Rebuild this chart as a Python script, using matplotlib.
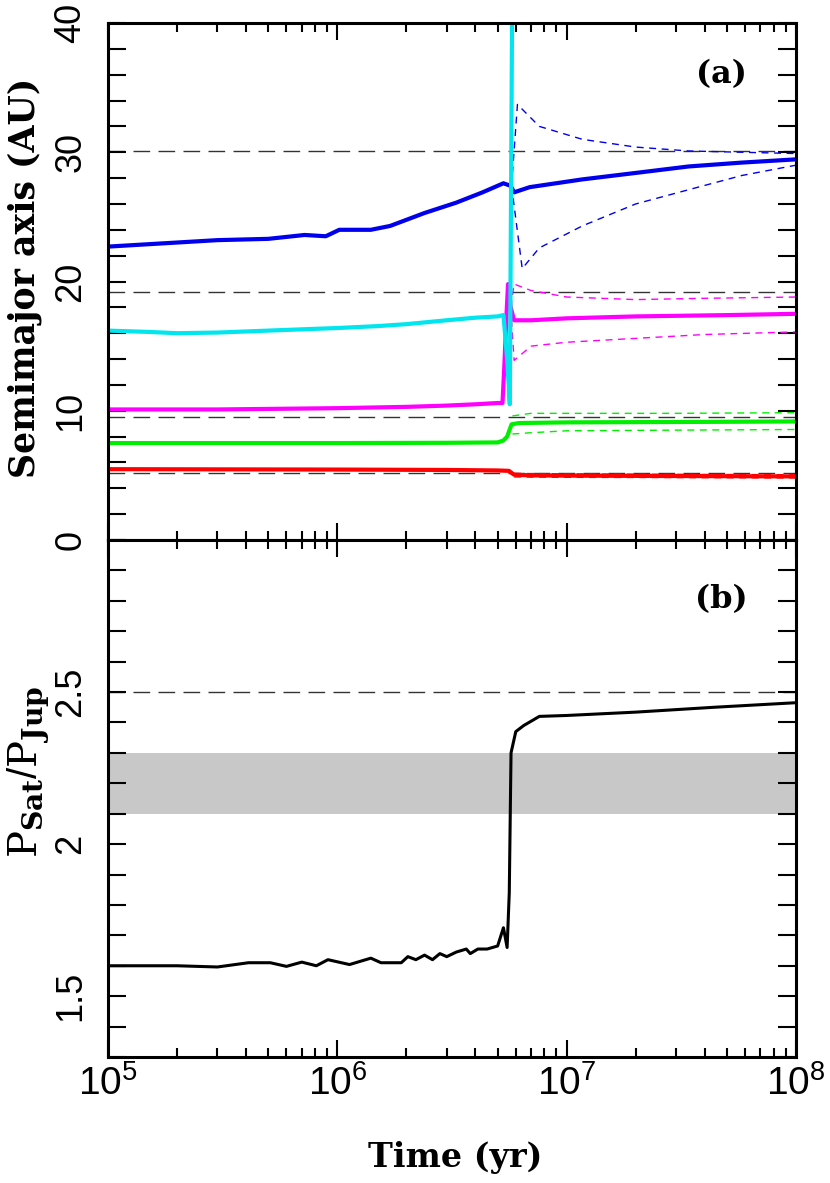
import matplotlib
matplotlib.use("Agg")
import matplotlib.pyplot as plt
from matplotlib.ticker import FixedLocator, NullFormatter, LogLocator
import numpy as np

# ---------------- data ----------------
# Panel (a): semimajor axes (AU) vs time (yr)
t_red = [1e5, 1e6, 3e6, 5e6, 5.6e6, 5.9e6, 7e6, 1e7, 3e7, 1e8]
a_red = [5.48, 5.45, 5.42, 5.38, 5.35, 5.05, 5.0, 4.98, 4.95, 4.92]
t_red_q = [5.9e6, 1e7, 3e7, 1e8]
q_red = [4.88, 4.85, 4.83, 4.8]
Q_red = [5.15, 5.12, 5.08, 5.05]

t_grn = [1e5, 1e6, 3e6, 5e6, 5.3e6, 5.5e6, 5.75e6, 6.2e6, 1e7, 3e7, 1e8]
a_grn = [7.5, 7.5, 7.52, 7.55, 7.7, 8.0, 8.95, 9.05, 9.1, 9.13, 9.17]
t_grn_q = [5.8e6, 7e6, 1e7, 3e7, 1e8]
Q_grn = [9.6, 9.8, 9.8, 9.8, 9.85]
q_grn = [8.2, 8.3, 8.45, 8.5, 8.55]

t_mag = [1e5, 3e5, 1e6, 2e6, 3e6, 4e6, 5e6, 5.25e6, 5.35e6, 5.45e6,
         5.55e6, 5.7e6, 5.9e6, 7e6, 1e7, 2e7, 5e7, 1e8]
a_mag = [10.1, 10.1, 10.2, 10.3, 10.4, 10.5, 10.6, 10.6, 13.5, 17.0,
         19.8, 18.0, 17.0, 17.0, 17.15, 17.3, 17.4, 17.5]
t_mag_q = [5.7e6, 5.9e6, 7e6, 1e7, 2e7, 4e7, 1e8]
Q_mag = [18.0, 19.8, 19.3, 18.8, 18.6, 18.7, 18.8]
q_mag = [18.0, 13.9, 15.0, 15.3, 15.6, 15.9, 16.1]

t_cyn = [1e5, 1.5e5, 2e5, 3e5, 5e5, 7e5, 1e6, 1.5e6, 2e6, 3e6, 4e6,
         5e6, 5.3e6, 5.5e6, 5.65e6, 5.8e6]
a_cyn = [16.2, 16.1, 16.0, 16.05, 16.2, 16.3, 16.4, 16.55, 16.7, 17.0, 17.2,
         17.3, 17.4, 14.0, 10.5, 45.0]

t_blu = [1e5, 3e5, 5e5, 7.2e5, 8.9e5, 1.02e6, 1.4e6, 1.7e6, 2.4e6, 3.3e6,
         4.3e6, 5.3e6, 5.7e6, 5.9e6, 6.9e6, 1.17e7, 2e7, 3.4e7, 5.8e7, 1e8]
a_blu = [22.7, 23.2, 23.3, 23.6, 23.5, 24.0, 24.0, 24.3, 25.3, 26.1,
         26.9, 27.6, 27.4, 26.9, 27.3, 27.9, 28.4, 28.9, 29.2, 29.45]
t_blu_Q = [5.75e6, 6.1e6, 7.6e6, 1.17e7, 2e7, 3.4e7, 5.8e7, 1e8]
Q_blu = [27.4, 33.7, 32.0, 31.0, 30.4, 30.1, 30.0, 29.9]
t_blu_q = [5.75e6, 6.4e6, 7.6e6, 1.17e7, 2e7, 3.4e7, 5.8e7, 1e8]
q_blu = [27.4, 21.0, 22.6, 24.3, 26.0, 27.1, 28.2, 29.0]

a_current = [5.2, 9.54, 19.2, 30.1]

# Panel (b): period ratio
t_ratio = [1e5, 2e5, 3e5, 4.1e5, 5.1e5, 6e5, 7e5, 8.1e5, 9.1e5, 1.13e6,
           1.4e6, 1.55e6, 1.9e6, 2.03e6, 2.2e6, 2.4e6, 2.6e6, 2.8e6, 3e6,
           3.3e6, 3.65e6, 3.8e6, 4.1e6, 4.5e6, 5.0e6, 5.3e6, 5.5e6, 5.62e6,
           5.72e6, 6.0e6, 6.5e6, 7.6e6, 1e7, 2e7, 4.4e7, 1e8]
r_ratio = [1.60, 1.60, 1.596, 1.61, 1.61, 1.598, 1.612, 1.60, 1.62, 1.604,
           1.625, 1.61, 1.61, 1.63, 1.62, 1.635, 1.62, 1.64, 1.63,
           1.645, 1.655, 1.64, 1.655, 1.655, 1.665, 1.725, 1.66, 1.84,
           2.30, 2.37, 2.39, 2.42, 2.423, 2.434, 2.45, 2.465]
band_lo, band_hi = 2.1, 2.3
ratio_ref = 2.5

# ---------------- style ----------------
plt.rcParams['mathtext.fontset'] = 'custom'
plt.rcParams['mathtext.rm'] = 'Liberation Sans'
plt.rcParams['mathtext.it'] = 'DejaVu Serif'
plt.rcParams['mathtext.bf'] = 'DejaVu Serif:bold'
tick_font = ['Liberation Sans', 'DejaVu Sans']
lab_font = ['DejaVu Serif']

W, H = 830, 1183
fig = plt.figure(figsize=(W / 100, H / 100), dpi=100)
L, R = 108 / W, 796 / W
ax_a = fig.add_axes([L, 1 - 540 / H, R - L, (540 - 23) / H])
ax_b = fig.add_axes([L, 1 - 1057 / H, R - L, (1057 - 540) / H])

for ax in (ax_a, ax_b):
    ax.set_xscale('log')
    ax.set_xlim(1e5, 1e8)
    for s in ax.spines.values():
        s.set_linewidth(2.2)
    ax.xaxis.set_major_locator(LogLocator(base=10, numticks=10))
    ax.xaxis.set_minor_locator(LogLocator(base=10, subs=np.arange(2, 10), numticks=10))
    ax.xaxis.set_minor_formatter(NullFormatter())
    ax.tick_params(axis='x', which='major', direction='in', length=12.5, width=1.5,
                   top=True, bottom=True, pad=6)
    ax.tick_params(axis='x', which='minor', direction='in', length=6.5, width=1.5,
                   top=True, bottom=True)
    ax.tick_params(axis='y', which='both', direction='in', length=13, width=1.5,
                   left=True, right=True, pad=14)

# ---- panel a ----
for y in a_current:
    ax_a.axhline(y, color='#333333', lw=1.0, dashes=(12, 6), zorder=1)

dk = dict(lw=1.0, dashes=(5, 4))
ax_a.plot(t_red_q, q_red, color='#ff0000', **dk)
ax_a.plot(t_red_q, Q_red, color='#ff0000', **dk)
ax_a.plot(t_grn_q, q_grn, color='#00ee00', **dk)
ax_a.plot(t_grn_q, Q_grn, color='#00ee00', **dk)
ax_a.plot(t_mag_q, q_mag, color='#ff00ff', **dk)
ax_a.plot(t_mag_q, Q_mag, color='#ff00ff', **dk)
ax_a.plot(t_blu_q, q_blu, color='#0000ee', **dk)
ax_a.plot(t_blu_Q, Q_blu, color='#0000ee', **dk)

ax_a.plot(t_red, a_red, color='#ff0000', lw=3.0)
ax_a.plot(t_grn, a_grn, color='#00ee00', lw=3.0)
ax_a.plot(t_mag, a_mag, color='#ff00ff', lw=3.0)
ax_a.plot(t_blu, a_blu, color='#0000ee', lw=3.0)
ax_a.plot(t_cyn, a_cyn, color='#00e5ee', lw=3.0)

ax_a.set_ylim(0, 40)
ax_a.yaxis.set_major_locator(FixedLocator([0, 10, 20, 30, 40]))
ax_a.yaxis.set_minor_locator(FixedLocator(np.arange(0, 41, 2)))
ax_a.set_yticklabels(['0', '10', '20', '30', '40'], rotation=90, va='center',
                     family=tick_font, fontsize=26)
ax_a.xaxis.set_major_formatter(NullFormatter())
ax_a.text(0.891, 0.90, '(a)', transform=ax_a.transAxes, ha='center', va='center',
          family=lab_font, fontweight='bold', fontsize=23)

# ---- panel b ----
ax_b.axhspan(band_lo, band_hi, color='#c8c8c8', lw=0, zorder=0)
ax_b.axhline(ratio_ref, color='#333333', lw=1.0, dashes=(12, 6), zorder=1)
ax_b.plot(t_ratio, r_ratio, color='black', lw=2.2, zorder=3)
ax_b.set_ylim(1.3, 3.0)
ax_b.yaxis.set_major_locator(FixedLocator([1.5, 2.0, 2.5]))
ax_b.yaxis.set_minor_locator(FixedLocator(np.arange(1.3, 3.01, 0.1)))
ax_b.set_yticklabels(['1.5', '2', '2.5'], rotation=90, va='center',
                     family=tick_font, fontsize=26)
ax_b.set_xticks([1e5, 1e6, 1e7, 1e8])
ax_b.set_xticklabels([r'$10^{5}$', r'$10^{6}$', r'$10^{7}$', r'$10^{8}$'], fontsize=28)
ax_b.text(0.891, 0.884, '(b)', transform=ax_b.transAxes, ha='center', va='center',
          family=lab_font, fontweight='bold', fontsize=23)

# ---- axis labels ----
fig.text(25 / W, 1 - 278 / H, 'Semimajor axis (AU)', rotation=90, ha='center',
         va='center', family=lab_font, fontweight='bold', fontsize=25)
fig.text(29 / W, 1 - 772 / H, r'$P_{\mathbf{Sat}}/P_{\mathbf{Jup}}$', rotation=90,
         ha='center', va='center', fontsize=29)
fig.text(455 / W, 1 - 1158 / H, 'Time (yr)', ha='center', va='center',
         family=lab_font, fontweight='bold', fontsize=24)

fig.savefig('out.png', dpi=100)
